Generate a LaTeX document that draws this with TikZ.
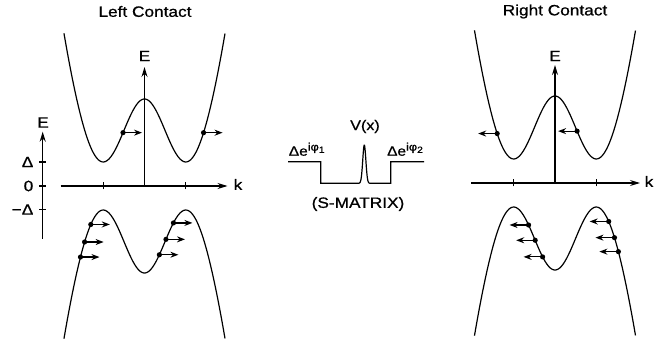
\documentclass[tikz,border=0pt]{standalone}
\usepackage{fontspec}
\setmainfont{Liberation Sans}[FakeStretch=1.15, RawFeature={embolden=0.8}]
\usetikzlibrary{arrows.meta}

\tikzset{
	band/.style={line width=1.2pt},
	axis/.style={line width=1.2pt, -{Stealth[length=10pt, width=6pt]}},
	flow/.style={line width=1.2pt, -{Stealth[length=8pt, width=6pt]}},
	dot/.style={circle, fill=black, inner sep=0pt, minimum size=5.2pt},
	lbl/.style={font=\fontsize{15}{18}\selectfont, inner sep=2pt},
}
\newcommand{\phase}[1]{\fontsize{13.5}{15}\selectfont Δe\raisebox{5pt}{\fontsize{11}{11}\selectfont iφ\raisebox{-2.2pt}{\fontsize{9}{9}\selectfont #1}}}

\begin{document}
\begin{tikzpicture}[x=1pt, y=1pt,
	declare function={Eb(\u)=63.5*\u*\u+177.3*exp(-\u*\u/0.8)-90.3;}]
	\useasboundingbox (0,0) rectangle (664,343);

	% left contact
	\node[lbl] (lt) at (145,331.5) {Left Contact};
	\begin{scope}[shift={(144.5,157)}]
		\draw[band] plot[domain=-1.95:1.95, samples=90, smooth] ({41.3*\x},{Eb(\x)});
		\draw[band] plot[domain=-1.95:1.95, samples=90, smooth] ({41.3*\x},{-Eb(\x)});
		\coordinate (lo) at (0,0);
		\coordinate (lk0) at (-84,0);
		\coordinate (lk1) at (83,0);
		\coordinate (le1) at (0,119);
		\draw[axis] (lk0) -- (lk1);
		\draw[axis] (lo) -- (le1);
		\draw[band] (-41.3,-3.5) -- (-41.3,3.5);
		\draw[band] (41.3,-3.5) -- (41.3,3.5);
		\node[lbl] (lk) at (93.5,1.5) {k};
		\node[lbl] (le) at (0,130) {E};

		\node[dot] (lu1) at ({41.3*-0.52},{Eb(-0.52)}) {};
		\node[dot] (lu2) at ({41.3*1.43},{Eb(1.43)}) {};
		\draw[flow] (lu1.center) -- ++(19,0);
		\draw[flow] (lu2.center) -- ++(19,0);

		\node[dot] (ll1) at ({41.3*-1.30},{-Eb(-1.30)}) {};
		\node[dot] (ll2) at ({41.3*-1.45},{-Eb(-1.45)}) {};
		\node[dot] (ll3) at ({41.3*-1.55},{-Eb(-1.55)}) {};
		\node[dot] (ll4) at ({41.3*0.70},{-Eb(0.70)}) {};
		\node[dot] (ll5) at ({41.3*0.52},{-Eb(0.52)}) {};
		\node[dot] (ll6) at ({41.3*0.36},{-Eb(0.36)}) {};
		\draw[flow] (ll1.center) -- ++(19,0);
		\draw[flow] (ll2.center) -- ++(19,0);
		\draw[flow] (ll3.center) -- ++(19,0);
		\draw[flow] (ll4.center) -- ++(19,0);
		\draw[flow] (ll5.center) -- ++(19,0);
		\draw[flow] (ll6.center) -- ++(19,0);
	\end{scope}

	% energy scale
	\coordinate (s0) at (42.7,104);
	\coordinate (s1) at (42.7,211.3);
	\draw[axis] (s0) -- (s1);
	\node[lbl] (se) at (43,220.5) {E};
	\draw[band] (39.3,181) -- (46,181);
	\draw[band] (39.3,157) -- (46,157);
	\draw[band] (39.3,133.5) -- (46,133.5);
	\node[lbl, anchor=east] (sd) at (35.5,181) {Δ};
	\node[lbl, anchor=east] (sz) at (35.5,157) {0};
	\node[lbl, anchor=east] (sm) at (35.5,133.5) {−Δ};

	% scattering region
	\draw[band] (288,181.3) -| (320.7,159.7)
		-- plot[domain=356:372.6, samples=60] (\x,{159.7+38.3*exp(-pow((\x-364.3)/2.2,2))})
		-- (390.7,159.7) |- (424,181.3);
	\node[font=\fontsize{14}{16}\selectfont, inner sep=1pt] (vx) at (365,216.5) {V(x)};
	\node[anchor=base, inner sep=0pt] (ph1) at (306.7,187.3) {\phase{1}};
	\node[anchor=base, inner sep=0pt] (ph2) at (405,187.3) {\phase{2}};
	\node[lbl] (smat) at (358,139) {(S-MATRIX)};

	% right contact
	\node[lbl] (rt) at (555,331.5) {Right Contact};
	\begin{scope}[shift={(555,160)}]
		\draw[band] plot[domain=-1.95:1.95, samples=90, smooth] ({41.3*\x},{Eb(\x)});
		\draw[band] plot[domain=-1.95:1.95, samples=90, smooth] ({41.3*\x},{-Eb(\x)});
		\coordinate (ro) at (0,0);
		\coordinate (rk0) at (-84,0);
		\coordinate (rk1) at (85,0);
		\coordinate (re1) at (0,118);
		\draw[axis] (rk0) -- (rk1);
		\draw[axis] (ro) -- (re1);
		\draw[band] (-41.3,-3.5) -- (-41.3,3.5);
		\draw[band] (41.3,-3.5) -- (41.3,3.5);
		\node[lbl] (rk) at (94,1.5) {k};
		\node[lbl] (re) at (0,127) {E};

		\node[dot] (ru1) at ({41.3*-1.40},{Eb(-1.40)}) {};
		\node[dot] (ru2) at ({41.3*0.535},{Eb(0.535)}) {};
		\draw[flow] (ru1.center) -- ++(-19,0);
		\draw[flow] (ru2.center) -- ++(-19,0);

		\node[dot] (rl1) at ({41.3*-0.64},{-Eb(-0.64)}) {};
		\node[dot] (rl2) at ({41.3*-0.48},{-Eb(-0.48)}) {};
		\node[dot] (rl3) at ({41.3*-0.30},{-Eb(-0.30)}) {};
		\node[dot] (rl4) at ({41.3*1.30},{-Eb(1.30)}) {};
		\node[dot] (rl5) at ({41.3*1.44},{-Eb(1.44)}) {};
		\node[dot] (rl6) at ({41.3*1.535},{-Eb(1.535)}) {};
		\draw[flow] (rl1.center) -- ++(-19,0);
		\draw[flow] (rl2.center) -- ++(-19,0);
		\draw[flow] (rl3.center) -- ++(-19,0);
		\draw[flow] (rl4.center) -- ++(-19,0);
		\draw[flow] (rl5.center) -- ++(-19,0);
		\draw[flow] (rl6.center) -- ++(-19,0);
	\end{scope}
\end{tikzpicture}
\end{document}
